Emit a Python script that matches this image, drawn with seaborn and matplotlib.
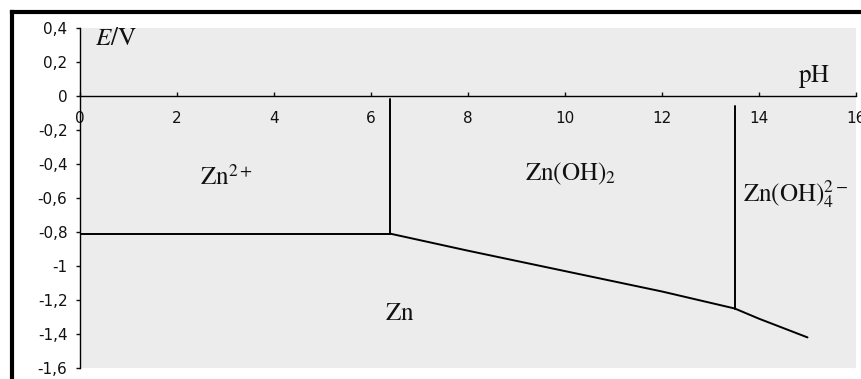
import numpy as np
import pandas as pd
import matplotlib
matplotlib.use("Agg")
import matplotlib.pyplot as plt
import seaborn as sns
from matplotlib.lines import Line2D

# ---- data ----
ph_ticks = [0, 2, 4, 6, 8, 10, 12, 14, 16]
ph_tick_labels = ["0", "2", "4", "6", "8", "10", "12", "14", "16"]
e_ticks = [0.4, 0.2, 0.0, -0.2, -0.4, -0.6, -0.8, -1.0, -1.2, -1.4, -1.6]
e_tick_labels = ["0,4", "0,2", "0", "-0,2", "-0,4", "-0,6", "-0,8", "-1", "-1,2", "-1,4", "-1,6"]

zn2_zn_ph = [0, 6.4]
zn2_zn_e = [-0.81, -0.81]
zn2_hydrox_ph = [6.4, 6.4]
zn2_hydrox_e = [-0.81, -0.02]
hydrox_zincate_ph = [13.5, 13.5]
hydrox_zincate_e = [-1.25, -0.06]
zn_low_ph = [6.4, 8, 10, 12, 13.5, 14, 15]
zn_low_e = [-0.81, -0.91, -1.03, -1.15, -1.25, -1.31, -1.42]

label_texts = [r"$E/\mathrm{V}$", r"$\mathrm{pH}$", r"$\mathrm{Zn}^{2+}$",
               r"$\mathrm{Zn(OH)}_2$", r"$\mathrm{Zn(OH)}_4^{2-}$", r"$\mathrm{Zn}$"]
label_ph = [0.31, 14.8, 2.47, 9.18, 13.67, 6.29]
label_e = [0.30, 0.084, -0.524, -0.494, -0.62, -1.32]

# ---- style ----
sns.set_theme(style="white")
plt.rcParams["font.family"] = ["DejaVu Sans"]
plt.rcParams["mathtext.fontset"] = "stix"

fig = plt.figure(figsize=(8.61, 3.79), dpi=100)
fig.patch.set_facecolor("white")
ax = fig.add_axes([80 / 861, 11 / 379, 776 / 861, 340 / 379])
ax.set_facecolor("#ececec")

segments = [(zn2_zn_ph, zn2_zn_e), (zn2_hydrox_ph, zn2_hydrox_e),
            (hydrox_zincate_ph, hydrox_zincate_e), (zn_low_ph, zn_low_e)]
for xs, ys in segments:
    df = pd.DataFrame({"pH": xs, "E": ys})
    sns.lineplot(data=df, x="pH", y="E", ax=ax, color="black", lw=1.4,
                 sort=False, estimator=None)

ax.set_xlim(0, 16)
ax.set_ylim(-1.6, 0.4)
ax.set_xlabel("")
ax.set_ylabel("")
ax.grid(False)

for s in ["top", "right"]:
    ax.spines[s].set_visible(False)
ax.spines["left"].set_color("black")
ax.spines["left"].set_linewidth(1.0)
ax.spines["left"].set_bounds(-1.6, 0.4)
ax.spines["bottom"].set_color("black")
ax.spines["bottom"].set_linewidth(1.0)
ax.spines["bottom"].set_position(("data", 0))

ax.set_xticks(ph_ticks)
ax.set_xticklabels(ph_tick_labels)
ax.set_yticks(e_ticks)
ax.set_yticklabels(e_tick_labels)
ax.tick_params(axis="y", direction="out", length=3, width=1, pad=6,
               labelsize=11, colors="#111111", left=True)
ax.tick_params(axis="x", direction="in", length=3, width=1, pad=11,
               labelsize=11, colors="#111111", bottom=True)

for t, x, y in zip(label_texts, label_ph, label_e):
    ax.text(x, y, t, fontsize=18, color="#111111", ha="left", va="baseline")

# black frame lines (top and left)
fig.add_artist(Line2D([12 / 861, 1.0], [1 - 12 / 379, 1 - 12 / 379],
                      transform=fig.transFigure, color="black", lw=3,
                      solid_capstyle="projecting"))
fig.add_artist(Line2D([12 / 861, 12 / 861], [0, 1 - 12 / 379],
                      transform=fig.transFigure, color="black", lw=3,
                      solid_capstyle="projecting"))

fig.savefig("out.png", dpi=100)
